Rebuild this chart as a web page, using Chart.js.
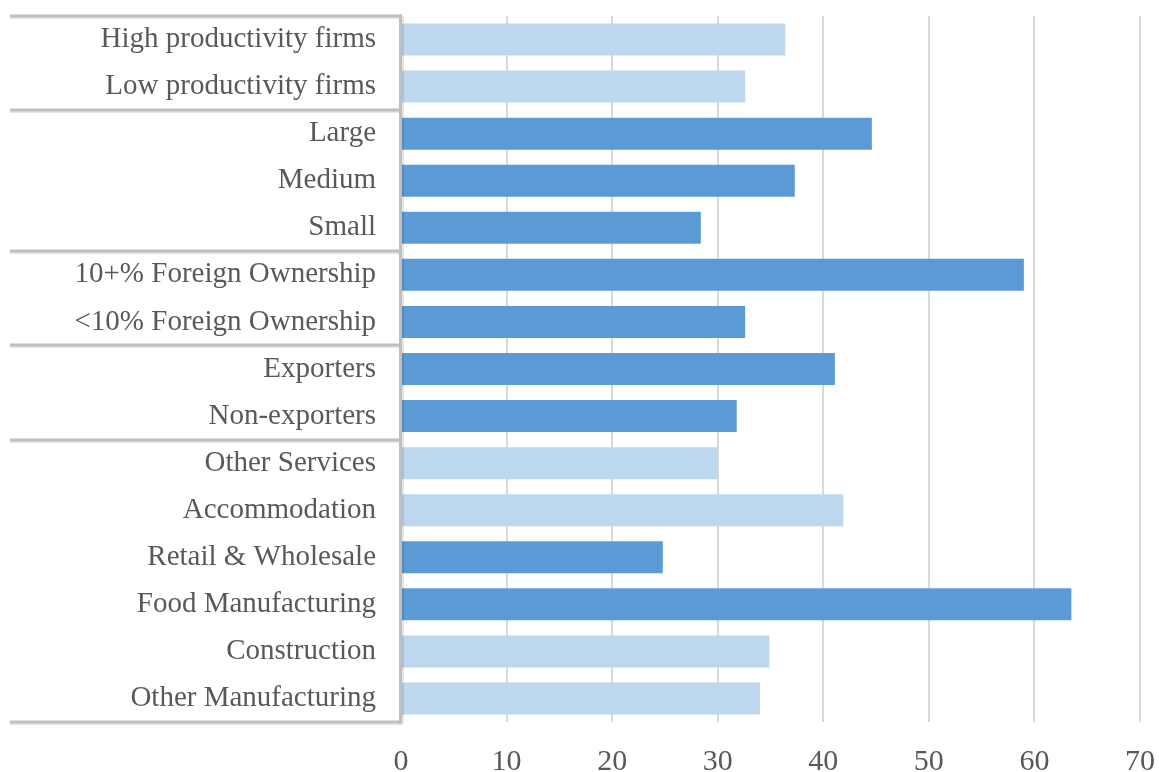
<!DOCTYPE html>
<html>
<head>
<meta charset="utf-8">
<script src="https://cdn.jsdelivr.net/npm/chart.js@4.4.1/dist/chart.umd.min.js"></script>
<style>
    html, body { margin: 0; padding: 0; background: #fff; }
    #wrap { width: 1159px; height: 772px; }
</style>
</head>
<body>
<div id="wrap"><canvas id="bars"></canvas></div>
<script>
// categories, top to bottom
const categorias = [
    'High productivity firms',
    'Low productivity firms',
    'Large',
    'Medium',
    'Small',
    '10+% Foreign Ownership',
    '<10% Foreign Ownership',
    'Exporters',
    'Non-exporters',
    'Other Services',
    'Accommodation',
    'Retail & Wholesale',
    'Food Manufacturing',
    'Construction',
    'Other Manufacturing'
];
const valores = [36.4, 32.6, 44.6, 37.3, 28.4, 59.0, 32.6, 41.1, 31.8, 30.0, 41.9, 24.8, 63.5, 34.9, 34.0];
// 1 = dark bar, 0 = light bar
const resaltado = [0, 0, 1, 1, 1, 1, 1, 1, 1, 0, 0, 1, 1, 0, 0];
// index where each group of categories starts (last one closes the axis)
const grupos = [0, 2, 5, 7, 9, 15];
const ticksX = [0, 10, 20, 30, 40, 50, 60, 70];

const OSCURO = '#5B9BD5';
const CLARO = '#BDD7EE';
const GRIS = '#BFBFBF';
const TEXTO = '#595959';
const FUENTE = "'Liberation Serif', 'Times New Roman', serif";

// group separator lines on the category axis + the axis line itself
const separadores = {
    id: 'separadores',
    afterDraw(chart) {
        const ctx = chart.ctx;
        const y = chart.scales.y;
        const area = chart.chartArea;
        const paso = (y.getPixelForValue(1) - y.getPixelForValue(0));
        const borde = i => y.getPixelForValue(i) - paso / 2;
        ctx.save();
        ctx.lineCap = 'butt';
        // soft shadow first
        ctx.strokeStyle = 'rgba(0,0,0,0.10)';
        ctx.lineWidth = 3;
        grupos.forEach(g => {
            const py = Math.round(borde(g)) + 1.5;
            ctx.beginPath();
            ctx.moveTo(10, py);
            ctx.lineTo(area.left + 1, py);
            ctx.stroke();
        });
        ctx.beginPath();
        ctx.moveTo(area.left + 1.5, borde(0));
        ctx.lineTo(area.left + 1.5, borde(15) + 2);
        ctx.stroke();

        ctx.strokeStyle = GRIS;
        ctx.lineWidth = 3;
        grupos.forEach(g => {
            const py = Math.round(borde(g));
            ctx.beginPath();
            ctx.moveTo(10, py);
            ctx.lineTo(area.left + 1, py);
            ctx.stroke();
        });
        ctx.beginPath();
        ctx.moveTo(area.left - 0.5, borde(0) - 1.5);
        ctx.lineTo(area.left - 0.5, borde(15) + 1.5);
        ctx.stroke();
        ctx.restore();
    }
};

document.addEventListener('DOMContentLoaded', function() {
    const ctx = document.getElementById('bars').getContext('2d');
    new Chart(ctx, {
        type: 'bar',
        data: {
            labels: categorias,
            datasets: [{
                data: valores,
                backgroundColor: resaltado.map(r => r ? OSCURO : CLARO),
                borderWidth: 0,
                barPercentage: 0.68,
                categoryPercentage: 1
            }]
        },
        options: {
            indexAxis: 'y',
            responsive: true,
            maintainAspectRatio: false,
            animation: false,
            layout: { padding: { top: 16, right: 19, left: 0, bottom: 0 } },
            plugins: {
                legend: { display: false },
                tooltip: { enabled: false }
            },
            scales: {
                x: {
                    min: 0,
                    max: 70,
                    afterBuildTicks: scale => {
                        scale.ticks = ticksX.map(v => ({ value: v }));
                    },
                    afterFit: scale => {
                        scale.height = 50;
                        scale.paddingLeft = 0;
                        scale.paddingRight = 0;
                    },
                    grid: {
                        color: '#D9D9D9',
                        lineWidth: 2,
                        drawTicks: false
                    },
                    border: { display: false },
                    ticks: {
                        color: TEXTO,
                        font: { family: FUENTE, size: 30 },
                        padding: 22,
                        maxRotation: 0
                    }
                },
                y: {
                    afterFit: scale => {
                        scale.width = 401;
                        scale.paddingTop = 0;
                        scale.paddingBottom = 0;
                    },
                    grid: { display: false, drawTicks: false },
                    border: { display: false },
                    ticks: {
                        color: TEXTO,
                        font: { family: FUENTE, size: 29 },
                        padding: 25,
                        autoSkip: false
                    }
                }
            }
        },
        plugins: [separadores]
    });
});
</script>
</body>
</html>
